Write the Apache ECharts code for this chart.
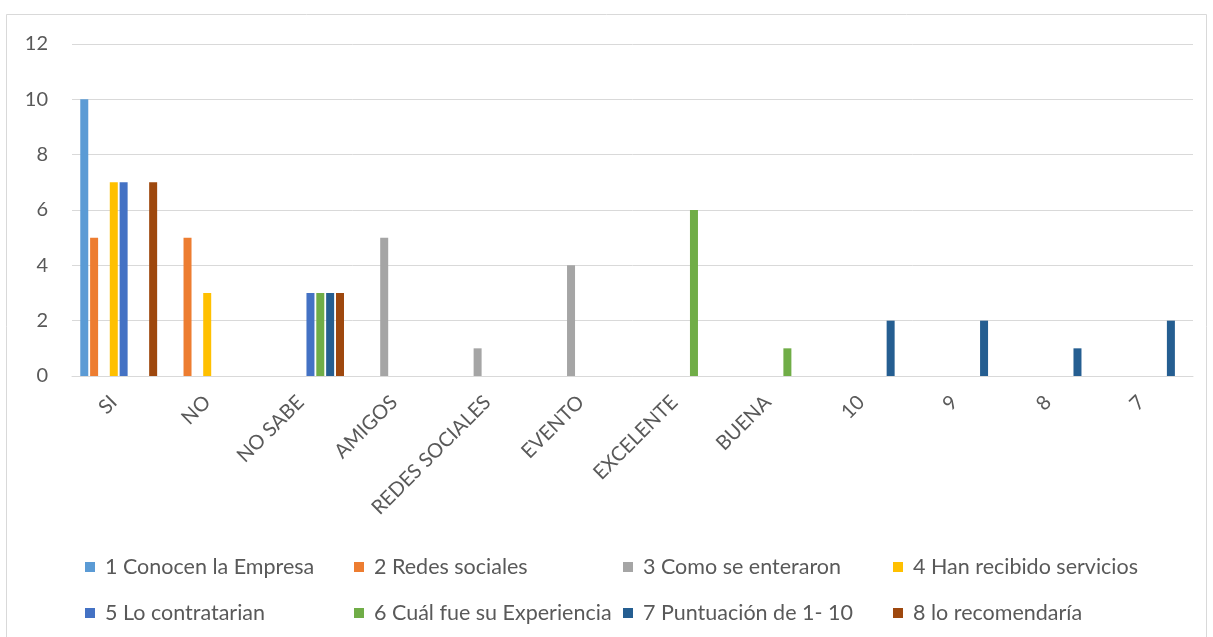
<!DOCTYPE html>
<html>
<head>
<meta charset="utf-8">
<script src="https://cdn.jsdelivr.net/npm/echarts@6/dist/echarts.min.js"></script>
<style>
html,body{margin:0;padding:0;background:#fff;}
#chart{width:1213px;height:637px;}
</style>
</head>
<body>
<div id="chart"></div>
<script>
const categories = ['SI', 'NO', 'NO SABE', 'AMIGOS', 'REDES SOCIALES', 'EVENTO', 'EXCELENTE', 'BUENA', '10', '9', '8', '7'];
const seriesNames = ['1 Conocen la Empresa', '2 Redes sociales', '3 Como se enteraron', '4 Han recibido servicios',
  '5 Lo contratarian', '6 Cuál fue su Experiencia', '7 Puntuación de 1- 10', '8 lo recomendaría'];
const s1 = [10, 0, 0, 0, 0, 0, 0, 0, 0, 0, 0, 0];
const s2 = [5, 5, 0, 0, 0, 0, 0, 0, 0, 0, 0, 0];
const s3 = [0, 0, 0, 5, 1, 4, 0, 0, 0, 0, 0, 0];
const s4 = [7, 3, 0, 0, 0, 0, 0, 0, 0, 0, 0, 0];
const s5 = [7, 0, 3, 0, 0, 0, 0, 0, 0, 0, 0, 0];
const s6 = [0, 0, 3, 0, 0, 0, 6, 1, 0, 0, 0, 0];
const s7 = [0, 0, 3, 0, 0, 0, 0, 0, 2, 2, 1, 2];
const s8 = [7, 0, 3, 0, 0, 0, 0, 0, 0, 0, 0, 0];
const seriesValues = [s1, s2, s3, s4, s5, s6, s7, s8];
const colors = ['#5B9BD5', '#ED7D31', '#A5A5A5', '#FFC000', '#4472C4', '#70AD47', '#255E91', '#9E480E'];

const FONT = 'Lato';
const legendPos = [[85, 556], [354, 556], [623, 556], [893, 556], [85, 602], [354, 602], [623, 602], [893, 602]];

const chart = echarts.init(document.getElementById('chart'), null, {renderer: 'canvas'});
chart.setOption({
  backgroundColor: '#ffffff',
  animation: false,
  textStyle: {fontFamily: FONT},
  color: colors,
  graphic: [{
    type: 'rect', silent: true,
    shape: {x: 6.5, y: 14.5, width: 1200, height: 640},
    style: {fill: 'none', stroke: '#d9d9d9', lineWidth: 1}
  }],
  grid: {left: 72, right: 20, top: 44, bottom: 261, containLabel: false},
  legend: seriesNames.map((n, i) => ({
    data: [n],
    left: legendPos[i][0],
    top: legendPos[i][1],
    icon: 'rect',
    itemWidth: 10,
    itemHeight: 10,
    padding: 0,
    textStyle: {fontFamily: FONT, fontSize: 21.5, color: '#595959', padding: [0, 0, 0, 5]}
  })),
  xAxis: {
    type: 'category',
    data: categories,
    axisLine: {show: true, lineStyle: {color: '#d9d9d9', width: 1}},
    axisTick: {show: false},
    axisLabel: {interval: 0, rotate: 45, margin: 18, padding: [0, 7, 0, 0], color: '#595959', fontSize: 20, fontFamily: FONT}
  },
  yAxis: {
    type: 'value',
    min: 0, max: 12, interval: 2,
    axisLine: {show: false},
    axisTick: {show: false},
    splitLine: {lineStyle: {color: '#d9d9d9', width: 1}},
    axisLabel: {margin: 24, color: '#595959', fontSize: 20, fontFamily: FONT}
  },
  series: seriesNames.map((n, i) => ({
    name: n,
    type: 'bar',
    data: seriesValues[i],
    barWidth: 8,
    barGap: '23%',
    itemStyle: {color: colors[i]}
  }))
});
</script>
</body>
</html>
